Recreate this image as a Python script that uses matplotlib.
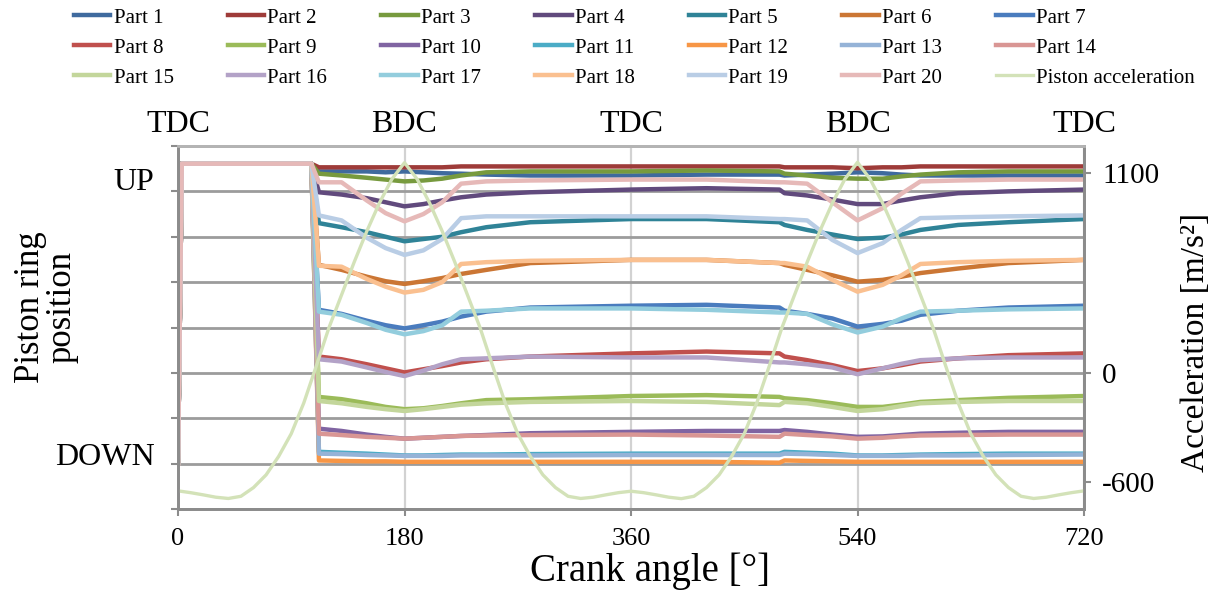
import matplotlib
matplotlib.use('Agg')
import matplotlib.pyplot as plt

plt.rcParams['font.family'] = ['Liberation Serif', 'DejaVu Serif']
plt.rcParams['axes.unicode_minus'] = False

crank_angle = [0, 3, 106, 112, 130, 150, 165, 180, 195, 210, 225, 245, 280,
               360, 420, 478, 482, 500, 520, 540, 560, 575, 590, 620, 660, 720]

# Ring position per part (0 = DOWN, 6 = UP, one unit per grid line)
part_1 = [0, 6.61, 6.61, 6.44, 6.44, 6.44, 6.42, 6.44, 6.42, 6.40, 6.39, 6.37, 6.35,
          6.35, 6.37, 6.37, 6.35, 6.37, 6.39, 6.42, 6.40, 6.37, 6.35, 6.35, 6.35, 6.35]
part_2 = [0, 6.61, 6.61, 6.53, 6.53, 6.53, 6.53, 6.53, 6.53, 6.53, 6.55, 6.55, 6.55,
          6.55, 6.55, 6.55, 6.53, 6.53, 6.53, 6.51, 6.53, 6.53, 6.55, 6.55, 6.55, 6.55]
part_3 = [0, 6.61, 6.61, 6.39, 6.35, 6.30, 6.26, 6.22, 6.24, 6.28, 6.35, 6.42, 6.44,
          6.44, 6.46, 6.44, 6.39, 6.35, 6.30, 6.28, 6.28, 6.33, 6.37, 6.42, 6.44, 6.44]
part_4 = [0, 6.61, 6.61, 5.98, 5.93, 5.85, 5.76, 5.67, 5.72, 5.80, 5.87, 5.93, 5.98,
          6.04, 6.07, 6.04, 5.96, 5.91, 5.82, 5.72, 5.72, 5.80, 5.87, 5.96, 6.00, 6.04]
part_5 = [0, 6.61, 6.61, 5.30, 5.21, 5.10, 5.00, 4.90, 4.95, 5.00, 5.10, 5.21, 5.32,
          5.39, 5.39, 5.32, 5.26, 5.15, 5.05, 4.95, 4.98, 5.05, 5.15, 5.26, 5.32, 5.39]
part_6 = [0, 6.61, 6.61, 4.38, 4.27, 4.12, 4.02, 3.96, 4.02, 4.09, 4.18, 4.27, 4.42,
          4.49, 4.49, 4.42, 4.38, 4.27, 4.15, 4.01, 4.05, 4.12, 4.20, 4.30, 4.42, 4.49]
part_7 = [0, 6.61, 6.61, 3.39, 3.30, 3.15, 3.05, 2.98, 3.05, 3.13, 3.24, 3.35, 3.44,
          3.48, 3.50, 3.44, 3.37, 3.30, 3.20, 3.02, 3.08, 3.15, 3.28, 3.37, 3.44, 3.48]
part_8 = [0, 6.61, 6.61, 2.36, 2.30, 2.19, 2.10, 2.01, 2.08, 2.15, 2.23, 2.30, 2.36,
          2.43, 2.47, 2.43, 2.36, 2.28, 2.17, 2.04, 2.10, 2.17, 2.25, 2.32, 2.39, 2.43]
part_9 = [0, 6.61, 6.61, 1.47, 1.42, 1.33, 1.25, 1.20, 1.22, 1.27, 1.33, 1.40, 1.42,
          1.49, 1.51, 1.47, 1.44, 1.40, 1.33, 1.25, 1.25, 1.30, 1.36, 1.40, 1.45, 1.49]
part_10 = [0, 6.61, 6.61, 0.77, 0.72, 0.64, 0.59, 0.55, 0.57, 0.59, 0.61, 0.63, 0.67,
           0.70, 0.72, 0.72, 0.74, 0.70, 0.64, 0.59, 0.60, 0.63, 0.66, 0.68, 0.70, 0.70]
part_11 = [0, 6.61, 6.61, 0.26, 0.24, 0.22, 0.20, 0.18, 0.18, 0.19, 0.20, 0.20, 0.21,
           0.22, 0.22, 0.22, 0.26, 0.24, 0.22, 0.18, 0.18, 0.19, 0.20, 0.21, 0.22, 0.22]
part_12 = [0, 6.61, 6.61, 0.07, 0.06, 0.05, 0.05, 0.04, 0.04, 0.04, 0.04, 0.04, 0.04,
           0.04, 0.04, 0.02, 0.07, 0.06, 0.05, 0.04, 0.04, 0.04, 0.04, 0.04, 0.04, 0.04]
part_13 = [0, 6.61, 6.61, 0.22, 0.21, 0.19, 0.18, 0.17, 0.17, 0.17, 0.18, 0.18, 0.18,
           0.19, 0.19, 0.19, 0.22, 0.21, 0.19, 0.17, 0.17, 0.17, 0.18, 0.18, 0.19, 0.20]
part_14 = [0, 6.61, 6.61, 0.66, 0.63, 0.59, 0.57, 0.55, 0.57, 0.59, 0.61, 0.62, 0.63,
           0.64, 0.62, 0.59, 0.66, 0.63, 0.60, 0.55, 0.57, 0.60, 0.62, 0.63, 0.64, 0.64]
part_15 = [0, 6.61, 6.61, 1.38, 1.33, 1.25, 1.20, 1.16, 1.20, 1.25, 1.30, 1.33, 1.36,
           1.38, 1.36, 1.29, 1.36, 1.33, 1.25, 1.16, 1.20, 1.27, 1.33, 1.36, 1.38, 1.38]
part_16 = [0, 6.61, 6.61, 2.30, 2.25, 2.12, 2.02, 1.93, 2.05, 2.19, 2.30, 2.32, 2.36,
           2.34, 2.34, 2.23, 2.23, 2.19, 2.12, 1.97, 2.10, 2.20, 2.28, 2.32, 2.34, 2.34]
part_17 = [0, 6.61, 6.61, 3.35, 3.28, 3.10, 2.95, 2.85, 2.92, 3.05, 3.35, 3.37, 3.42,
           3.42, 3.39, 3.33, 3.33, 3.30, 3.07, 2.89, 3.02, 3.20, 3.35, 3.37, 3.40, 3.42]
part_18 = [0, 6.61, 6.61, 4.36, 4.34, 4.07, 3.90, 3.77, 3.83, 4.00, 4.40, 4.44, 4.47,
           4.49, 4.49, 4.42, 4.42, 4.34, 4.05, 3.79, 3.94, 4.15, 4.40, 4.44, 4.47, 4.49]
part_19 = [0, 6.61, 6.61, 5.47, 5.36, 4.98, 4.75, 4.60, 4.70, 4.95, 5.41, 5.45, 5.45,
           5.45, 5.45, 5.39, 5.39, 5.36, 4.93, 4.64, 4.86, 5.15, 5.41, 5.43, 5.45, 5.47]
part_20 = [0, 6.61, 6.61, 6.20, 6.20, 5.80, 5.52, 5.34, 5.50, 5.76, 6.17, 6.22, 6.24,
           6.26, 6.26, 6.20, 6.20, 6.17, 5.76, 5.36, 5.63, 5.95, 6.22, 6.24, 6.26, 6.26]

# Piston acceleration [m/s^2], read every 10 deg
acc_angle = list(range(0, 721, 10))
piston_acc = [-650, -660, -672, -685, -692, -680, -632, -562, -460, -335,
              -165, 40, 250, 430, 610, 780, 935, 1068, 1158, 1068,
              935, 780, 610, 430, 250, 40, -165, -335, -460, -562,
              -632, -680, -692, -685, -672, -660, -652, -660, -672, -685,
              -693, -680, -632, -562, -460, -335, -165, 40, 250, 430,
              610, 780, 935, 1068, 1160, 1068, 935, 780, 610, 430,
              250, 40, -165, -335, -460, -562, -632, -680, -692, -685,
              -672, -660, -650]

part_colors = ['#3F6A9E', '#9E3B39', '#779A3E', '#614A7D', '#2F8397', '#CB7634',
               '#4A7CBE', '#C0504D', '#9BBB59', '#8064A2', '#4BACC6', '#F79646',
               '#95B3D7', '#D99694', '#C3D69B', '#B3A2C7', '#93CDDD', '#FAC090',
               '#B9CDE5', '#E6B9B8']
acc_color = '#D3E2B8'

dead_centres = ['TDC', 'BDC', 'TDC', 'BDC', 'TDC']
x_ticks = [0, 180, 360, 540, 720]
acc_ticks = [-600, 0, 1100]


def plot_ring_positions():
    parts = [part_1, part_2, part_3, part_4, part_5, part_6, part_7, part_8, part_9, part_10,
             part_11, part_12, part_13, part_14, part_15, part_16, part_17, part_18, part_19, part_20]

    fig = plt.figure(figsize=(12.17, 6), dpi=100)
    ax = fig.add_axes([178 / 1217, 91 / 600, 906 / 1217, 363 / 600])
    ax2 = ax.twinx()

    handles = []
    for i, pos in enumerate(parts):
        line, = ax.plot(crank_angle, pos, color=part_colors[i], lw=3.2,
                        solid_joinstyle='round', label=f'Part {i + 1}')
        handles.append(line)
    acc_line, = ax2.plot(acc_angle, piston_acc, color=acc_color, lw=2.4, label='Piston acceleration')
    handles.append(acc_line)

    # Axes ranges and grid
    ax.set_xlim(0, 720)
    ax.set_ylim(-1, 7)
    ax2.set_ylim(-750, 1250)
    ax.set_xticks(x_ticks)
    ax.set_yticks(range(-1, 8))
    ax.set_yticklabels([])
    ax.set_yticks([0.22, 6.28], ['DOWN', 'UP'], minor=True)
    ax.yaxis.grid(True, color='#9c9c9c', lw=2)
    ax.xaxis.grid(True, color='#d2d2d2', lw=1.6)
    ax.set_axisbelow(True)
    ax2.set_yticks(acc_ticks)

    ax.tick_params(axis='x', length=5, width=1.5, color='#8c8c8c', pad=9, labelsize=19)
    ax.tick_params(axis='y', which='major', length=5, width=1.5, color='#8c8c8c')
    ax.tick_params(axis='y', which='minor', length=0, pad=17, labelsize=23)
    ax2.tick_params(axis='y', length=5, width=1.5, color='#8c8c8c', pad=8, labelsize=21)
    for a in (ax, ax2):
        for side in ['left', 'right', 'bottom']:
            a.spines[side].set_color('#8c8c8c')
            a.spines[side].set_linewidth(2)
        a.spines['top'].set_color('#b4b4b4')
        a.spines['top'].set_linewidth(2)

    # TDC / BDC markers above the plot
    for x, name in zip(x_ticks, dead_centres):
        ax.text(x, 1.06, name, transform=ax.get_xaxis_transform(),
                ha='center', va='center', fontsize=23)

    fig.text(46 / 1217, 1 - 307 / 600, 'Piston ring\nposition', rotation=90,
             ha='center', va='center', fontsize=25, linespacing=0.95)
    fig.text(1196 / 1217, 1 - 342 / 600, 'Acceleration [m/s²]', rotation=90,
             ha='center', va='center', fontsize=24)
    fig.text(650 / 1217, 1 - 571 / 600, 'Crank angle [°]',
             ha='center', va='center', fontsize=28)

    # Legend filled row by row, 7 columns
    order = [r * 7 + c for c in range(7) for r in range(3)]
    fig.legend([handles[i] for i in order], [handles[i].get_label() for i in order],
               ncol=7, loc='upper left', bbox_to_anchor=(74 / 1217, 1 - 8 / 600),
               frameon=False, fontsize=15, handlelength=1.75, handletextpad=0.15,
               columnspacing=2.6, labelspacing=0.5, borderpad=0, borderaxespad=0)

    fig.savefig('out.png', dpi=100)


if __name__ == "__main__":
    plot_ring_positions()
